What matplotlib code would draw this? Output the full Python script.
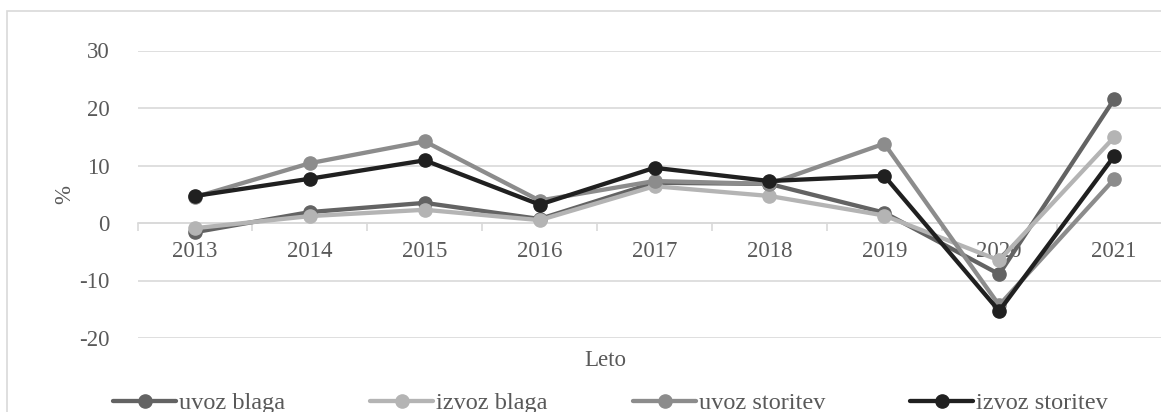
import matplotlib
matplotlib.use("Agg")
import matplotlib.pyplot as plt
from matplotlib.patches import Rectangle
import numpy as np

years = ['2013', '2014', '2015', '2016', '2017', '2018', '2019', '2020', '2021']
uvoz_blaga = [-1.6, 1.9, 3.5, 0.7, 7.0, 6.8, 1.8, -8.9, 21.5]
izvoz_blaga = [-0.9, 1.2, 2.3, 0.5, 6.4, 4.7, 1.3, -6.5, 14.9]
uvoz_storitev = [4.5, 10.4, 14.2, 3.9, 7.3, 6.8, 13.8, -14.3, 7.6]
izvoz_storitev = [4.7, 7.7, 10.9, 3.2, 9.6, 7.3, 8.2, -15.3, 11.6]

series_names = ['uvoz blaga', 'izvoz blaga', 'uvoz storitev', 'izvoz storitev']
series_vals = [uvoz_blaga, izvoz_blaga, uvoz_storitev, izvoz_storitev]
colors = ['#636363', '#b4b4b4', '#8c8c8c', '#202020']
yticks = [-20, -10, 0, 10, 20, 30]

plt.rcParams['font.family'] = ['Liberation Serif', 'DejaVu Serif']
TXT = '#595959'
GRID = '#d9d9d9'
FS = 16.5

W, H = 1161, 412
fig = plt.figure(figsize=(W / 100, H / 100), dpi=100)

# chart border (cropped at right/bottom in reference)
fig.patches.append(Rectangle((7 / W, -0.1), 1.2, (H - 11) / H + 0.1, transform=fig.transFigure,
                             fill=False, edgecolor=GRID, linewidth=1.2))

left, right = 137.5, 1171.5
top, bottom = 50.5, 338.0
ax = fig.add_axes([left / W, 1 - bottom / H, (right - left) / W, (bottom - top) / H])

x = np.arange(len(years))
for name, vals, c in zip(series_names, series_vals, colors):
    ax.plot(x, vals, color=c, lw=3.1, marker='o', ms=9.5, label=name, solid_capstyle='round',
            zorder=3)

ax.set_xlim(-0.5, len(years) - 0.5)
ax.set_ylim(-20, 30)
ax.set_yticks(yticks)
ax.set_yticklabels([str(v) for v in yticks])
ax.yaxis.grid(True, color=GRID, lw=1.2)
ax.set_axisbelow(True)

for s in ['left', 'right', 'top']:
    ax.spines[s].set_visible(False)
ax.spines['bottom'].set_position(('data', 0))
ax.spines['bottom'].set_color(GRID)
ax.spines['bottom'].set_linewidth(1.2)

ax.set_xticks(x)
ax.set_xticklabels(years)
ax.set_xticks(np.arange(-0.5, len(years), 1.0), minor=True)
ax.tick_params(axis='x', which='major', length=0, pad=13, labelsize=FS, labelcolor=TXT)
ax.tick_params(axis='x', which='minor', length=6, width=1.2, color=GRID, direction='out')
ax.tick_params(axis='y', length=0, pad=20, labelsize=FS, labelcolor=TXT)

fig.text(65 / W, 1 - 194 / H, '%', rotation=90, ha='center', va='center', fontsize=FS, color=TXT)
fig.text(605 / W, 1 - 361 / H, 'Leto', ha='center', va='center', fontsize=FS, color=TXT)

handles, labels = ax.get_legend_handles_labels()
leg_x = [113, 370, 633, 910]
for h, l, lx in zip(handles, labels, leg_x):
    lg = fig.legend([h], [l], loc='center left', bbox_to_anchor=(lx / W, 1 - 403 / H),
                    frameon=False, fontsize=17.5, handlelength=2.6, handletextpad=0.1,
                    borderpad=0, borderaxespad=0, labelcolor=TXT)

fig.savefig('out.png', dpi=100, facecolor='white')
